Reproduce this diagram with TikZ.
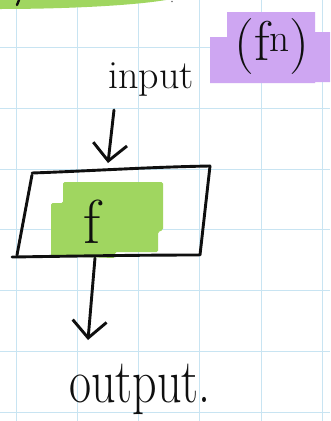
\documentclass[tikz,border=0pt]{standalone}
\usetikzlibrary{arrows.meta}
\definecolor{gridblue}{RGB}{200,228,242}
\definecolor{hlgreen}{RGB}{160,214,96}
\definecolor{hlpurple}{RGB}{206,166,242}
\definecolor{ink}{RGB}{15,15,15}
\begin{document}
\begin{tikzpicture}[x=1pt,y=-1pt,
  gridline/.style={draw=gridblue,line width=1pt},
  inkline/.style={draw=ink,line width=2.9pt,line cap=round,line join=round},
  handarrow/.style={inkline,-{Straight Barb[length=17pt,width=34pt,line width=2.9pt]}},
  handtext/.style={text=ink,inner sep=0pt,font=\fontsize{#1}{#1}\selectfont}]
\useasboundingbox (0,0) rectangle (330,421);
\fill[white] (0,0) rectangle (330,421);
% grid
\foreach \x in {16,77,138,199,261,322} \draw[gridline] (\x,0) -- (\x,421);
\foreach \y in {47,108,169,229,290,351,412} \draw[gridline] (0,\y) -- (330,\y);
% top green highlight remnant
\fill[hlgreen] (0,0) -- (166,0) .. controls (130,6) and (60,9) .. (0,9) -- cycle;
\draw[inkline,line width=2.4pt] (19,0) -- (17,5);
\fill[ink!60] (172,1.5) circle (0.9pt);
% purple highlight
\fill[hlpurple] (210,37) -- (227,37) -- (227,12) -- (315,12) -- (315,32) -- (330,32)
  -- (330,82) -- (315,82) -- (315,83) -- (210,83) -- cycle;
% texts
\node[handtext=40,anchor=base] (input) at (151,88) {input};
\node[handtext=56] (fn) at (272,47) {(f\textsuperscript{n})};
% green highlight in box
\fill[hlgreen,rounded corners=1.5pt] (51,203) -- (51,256) -- (115,258) -- (115,252)
  -- (158,252) -- (158,232) -- (163,230) -- (163,182) -- (63,182) -- (63,203) -- cycle;
% parallelogram box
\draw[inkline] (32,175) -- (17,255);
\draw[inkline] (32,173) .. controls (90,171) and (150,167) .. (210,166);
\draw[inkline] (210,166) -- (200,255);
\draw[inkline] (12,257) .. controls (80,256) and (140,255) .. (199,255);
\coordinate (boxtop) at (108,163);
\coordinate (boxbot) at (95,258);
\node[handtext=62] (f) at (92,222) {f};
% arrows
\coordinate (a1s) at (114,110);
\draw[handarrow] (a1s) -- (boxtop);
\coordinate (out) at (88,340);
\draw[handarrow] (boxbot) -- (out);
\node[handtext=48,anchor=base,yscale=1.3] (output) at (140,402) {output.};
\end{tikzpicture}
\end{document}
